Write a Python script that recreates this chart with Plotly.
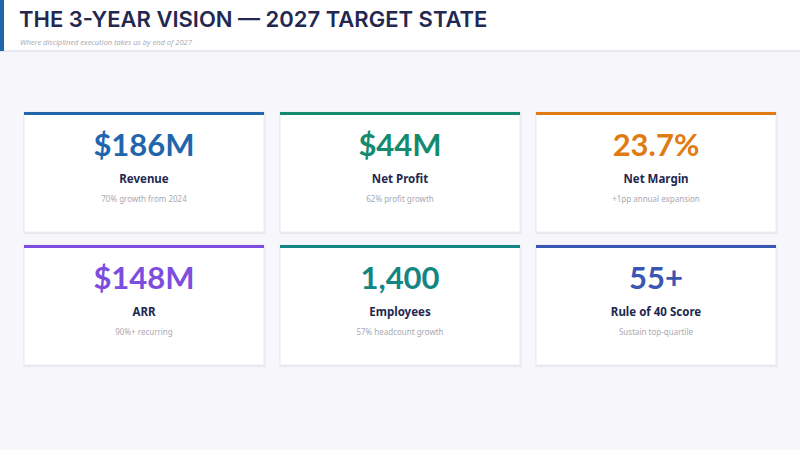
import plotly.graph_objects as go

# ---- data ----
values = ["$186M", "$44M", "23.7%", "$148M", "1,400", "55+"]
labels = ["Revenue", "Net Profit", "Net Margin", "ARR", "Employees", "Rule of 40 Score"]
notes = ["70% growth from 2024", "62% profit growth", "+1pp annual expansion",
         "90%+ recurring", "57% headcount growth", "Sustain top-quartile"]
colors = ["#2166ac", "#148a6e", "#e07b12", "#7c4ddf", "#138684", "#3a56b3"]
title = "THE 3-YEAR VISION — 2027 TARGET STATE"
subtitle = "Where disciplined execution takes us by end of 2027"

W, H = 800, 450
col_x0 = [24, 280, 536]
row_y0 = [112, 245]
card_w, card_h = 240, 120

fig = go.Figure()
shapes = []

# header
shapes.append(dict(type="rect", x0=0, x1=W, y0=0, y1=51, fillcolor="white",
                   line=dict(width=0), layer="below"))
shapes.append(dict(type="line", x0=0, x1=W, y0=51, y1=51,
                   line=dict(color="#e1e3ec", width=1.5), layer="below"))
shapes.append(dict(type="rect", x0=0, x1=4, y0=0, y1=51, fillcolor="#2166ac",
                   line=dict(width=0), layer="below"))

vx, vy, lx, ly, nx, ny = [], [], [], [], [], []
for i in range(len(values)):
    c = i % 3
    r = i // 3
    x0 = col_x0[c]
    y0 = row_y0[r]
    # shadow
    shapes.append(dict(type="rect", x0=x0 - 0.5, x1=x0 + card_w + 1.5, y0=y0, y1=y0 + card_h + 2,
                       fillcolor="#e8e9f0", line=dict(width=0), layer="below"))
    shapes.append(dict(type="rect", x0=x0, x1=x0 + card_w, y0=y0, y1=y0 + card_h,
                       fillcolor="white", line=dict(color="#ebecf2", width=1), layer="below"))
    shapes.append(dict(type="rect", x0=x0, x1=x0 + card_w, y0=y0, y1=y0 + 3,
                       fillcolor=colors[i], line=dict(width=0), layer="below"))
    cx = x0 + card_w / 2
    vx.append(cx); vy.append(y0 + 36)
    lx.append(cx); ly.append(y0 + 68)
    nx.append(cx); ny.append(y0 + 88)

fig.add_trace(go.Scatter(x=vx, y=vy, mode="text", text=values,
                         textfont=dict(family="Lato", size=31, color=colors, weight="bold"),
                         hoverinfo="skip"))
fig.add_trace(go.Scatter(x=lx, y=ly, mode="text", text=labels,
                         textfont=dict(family="Noto Sans", size=11.5, color="#232850", weight="bold"),
                         hoverinfo="skip"))
fig.add_trace(go.Scatter(x=nx, y=ny, mode="text", text=notes,
                         textfont=dict(family="Noto Sans", size=8, color="#a8a9b3"),
                         hoverinfo="skip"))

annotations = [
    dict(x=17, y=19, xref="x", yref="y", text=title, showarrow=False,
         xanchor="left", yanchor="middle",
         font=dict(family="Inter", size=22, color="#232850", weight=600)),
    dict(x=18, y=41.5, xref="x", yref="y", text="<i>" + subtitle + "</i>", showarrow=False,
         xanchor="left", yanchor="middle",
         font=dict(family="Open Sans", size=7.5, color="#a5a7b2")),
]

fig.update_layout(
    width=W, height=H, margin=dict(l=0, r=0, t=0, b=0),
    paper_bgcolor="#f6f6fb", plot_bgcolor="#f6f6fb",
    showlegend=False, shapes=shapes, annotations=annotations,
    xaxis=dict(range=[0, W], visible=False, fixedrange=True),
    yaxis=dict(range=[H, 0], visible=False, fixedrange=True),
)

fig.write_html("out.html", config={"displayModeBar": False},
               post_script="document.body.style.margin='0';document.body.style.padding='0';")
